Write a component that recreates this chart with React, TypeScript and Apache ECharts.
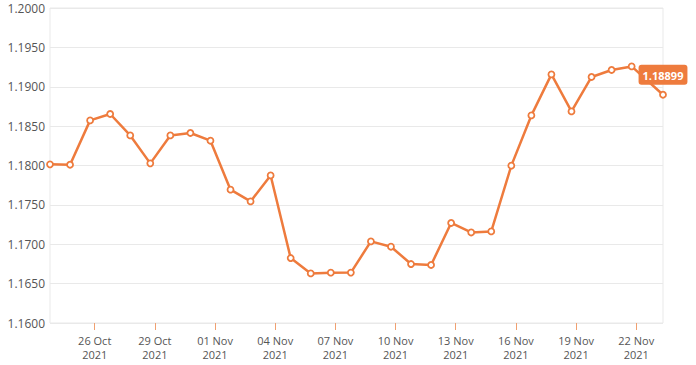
import React, { useEffect, useRef } from "react";
import * as echarts from "echarts";

// Daily observation dates (stamped at 00:00 IST), values of the series
const pointDates: string[] = [
  "2021-10-24", "2021-10-25", "2021-10-26", "2021-10-27", "2021-10-28",
  "2021-10-29", "2021-10-30", "2021-10-31", "2021-11-01", "2021-11-02",
  "2021-11-03", "2021-11-04", "2021-11-05", "2021-11-06", "2021-11-07",
  "2021-11-08", "2021-11-09", "2021-11-10", "2021-11-11", "2021-11-12",
  "2021-11-13", "2021-11-14", "2021-11-15", "2021-11-16", "2021-11-17",
  "2021-11-18", "2021-11-19", "2021-11-20", "2021-11-21", "2021-11-22",
];
const lastPointTime = "2021-11-23T13:30:00+05:30";

const values: number[] = [
  1.18015, 1.18010, 1.18573, 1.18654, 1.18382,
  1.18027, 1.18382, 1.18413, 1.18315, 1.17693,
  1.17544, 1.17874, 1.16825, 1.16630, 1.16639,
  1.16640, 1.17036, 1.16969, 1.16749, 1.16737,
  1.17270, 1.17150, 1.17163, 1.17998, 1.18636,
  1.19157, 1.18687, 1.19124, 1.19213, 1.19258,
  1.18899,
];

const tickDates: string[] = [
  "2021-10-26", "2021-10-29", "2021-11-01", "2021-11-04", "2021-11-07",
  "2021-11-10", "2021-11-13", "2021-11-16", "2021-11-19", "2021-11-22",
];
const tickLabels: string[] = [
  "26 Oct\n2021", "29 Oct\n2021", "01 Nov\n2021", "04 Nov\n2021", "07 Nov\n2021",
  "10 Nov\n2021", "13 Nov\n2021", "16 Nov\n2021", "19 Nov\n2021", "22 Nov\n2021",
];

const ORANGE = "#ee7b3d";
const FONT = "'Open Sans', Lato, sans-serif";

export default function App() {
  const ref = useRef<HTMLDivElement>(null);

  useEffect(() => {
    if (!ref.current) return;
    const chart = echarts.init(ref.current, null, { renderer: "svg" });

    const xs: number[] = pointDates.map((d) => Date.parse(`${d}T00:00:00+05:30`));
    xs.push(Date.parse(lastPointTime));
    const tickMs = tickDates.map((d) => Date.parse(`${d}T00:00:00Z`));
    const labelMap = new Map<number, string>();
    tickMs.forEach((t, i) => labelMap.set(t, tickLabels[i]));

    const data = values.map((v, i) => {
      const item: any = { value: [xs[i], v] };
      if (i === values.length - 1) {
        item.label = {
          show: true,
          position: "top",
          distance: 6,
          formatter: (p: any) => p.value[1].toFixed(5),
          backgroundColor: ORANGE,
          color: "#ffffff",
          fontWeight: "bold",
          fontSize: 11,
          fontFamily: FONT,
          padding: [5, 4, 4, 4],
          borderRadius: 3,
        };
      }
      return item;
    });

    chart.setOption({
      animation: false,
      backgroundColor: "#ffffff",
      grid: {
        left: 50,
        right: 33,
        top: 8,
        bottom: 42,
        show: true,
        borderColor: "#e9e9e9",
        borderWidth: 1,
        backgroundColor: "transparent",
      },
      xAxis: {
        type: "value",
        min: xs[0],
        max: xs[xs.length - 1],
        splitLine: { show: false },
        axisLine: { show: false },
        axisTick: {
          show: true,
          customValues: tickMs,
          length: 7,
          lineStyle: { color: "#f0a070", width: 1 },
        },
        axisLabel: {
          customValues: tickMs,
          formatter: (v: number) => labelMap.get(v) ?? "",
          color: "#555555",
          fontSize: 11,
          fontFamily: FONT,
          lineHeight: 13.5,
          margin: 11,
        },
      },
      yAxis: {
        type: "value",
        min: 1.16,
        max: 1.2,
        interval: 0.005,
        axisLine: { show: false },
        axisTick: { show: false },
        splitLine: { show: true, lineStyle: { color: "#e9e9e9", width: 1 } },
        axisLabel: {
          formatter: (v: number) => v.toFixed(4),
          color: "#555555",
          fontSize: 12,
          fontFamily: FONT,
          margin: 5,
        },
      },
      series: [
        {
          type: "line",
          data,
          showSymbol: true,
          symbol: "circle",
          symbolSize: 6,
          clip: false,
          lineStyle: { color: ORANGE, width: 2.5 },
          itemStyle: { color: "#ffffff", borderColor: ORANGE, borderWidth: 1.8 },
          z: 3,
        },
      ],
    });

    return () => chart.dispose();
  }, []);

  return (
    <div
      ref={ref}
      style={{ position: "fixed", left: 0, top: 0, width: 696, height: 365 }}
    />
  );
}
